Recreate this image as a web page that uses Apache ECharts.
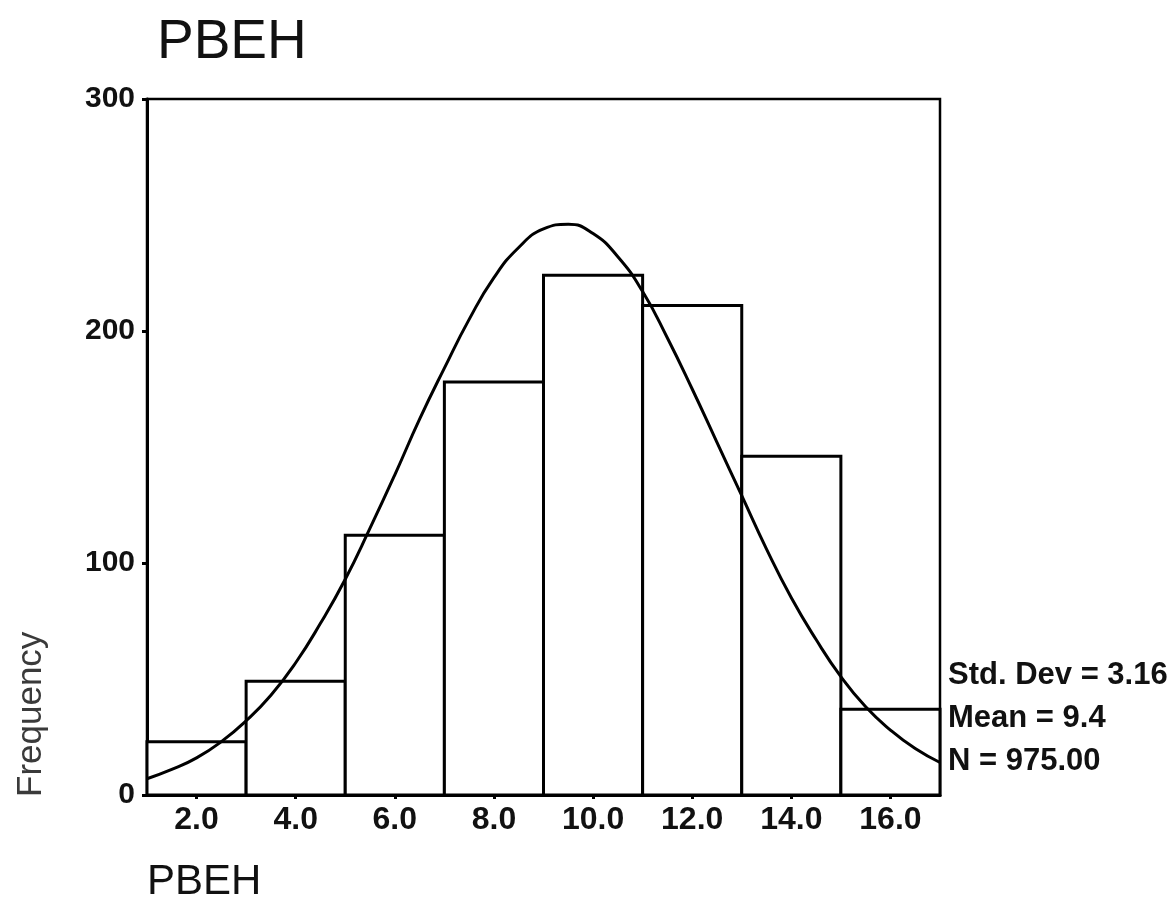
<!DOCTYPE html>
<html>
<head>
<meta charset="utf-8">
<script src="https://cdn.jsdelivr.net/npm/echarts@6/dist/echarts.min.js"></script>
<style>
html,body{margin:0;padding:0;background:#fff;}
#chart{width:1176px;height:923px;}
</style>
</head>
<body>
<div id="chart"></div>
<script>
// Histogram bins (PBEH)
var binStart = [1, 3, 5, 7, 9, 11, 13, 15];
var binEnd   = [3, 5, 7, 9, 11, 13, 15, 17];
var counts   = [23, 49, 112, 178, 224, 211, 146, 37];

// Normal curve
var curveX = [1, 1.5, 2, 2.5, 3, 3.5, 4, 4.5, 5, 5.5, 6, 6.5, 7, 7.5, 8, 8.5, 9, 9.5, 10, 10.5, 11, 11.5, 12, 12.5, 13, 13.5, 14, 14.5, 15, 15.5, 16, 16.5, 17];
var curveY = [7, 11, 16, 23, 32, 43, 57, 74, 93, 115, 138, 162, 184, 205, 223, 236, 244, 246, 242, 232, 217, 197, 175, 152, 129, 106, 85, 67, 51, 38, 28, 20, 14];

// Axis ticks
var xTicks = [2, 4, 6, 8, 10, 12, 14, 16];
var yTicks = [0, 100, 200, 300];

// Texts
var titleText = 'PBEH';
var xName = 'PBEH';
var yName = 'Frequency';
var stats = ['Std. Dev = 3.16', 'Mean = 9.4', 'N = 975.00'];

var barData = binStart.map(function (s, i) { return [s, binEnd[i], counts[i]]; });
var curveData = curveX.map(function (x, i) { return [x, curveY[i]]; });

var chart = echarts.init(document.getElementById('chart'));
var font = 'Liberation Sans, Arial, Helvetica, sans-serif';

chart.setOption({
  backgroundColor: '#fff',
  animation: false,
  title: {
    text: titleText,
    left: 152,
    top: 10,
    textStyle: { fontFamily: font, fontSize: 55, fontWeight: 'normal', color: '#111' }
  },
  grid: {
    left: 147, right: 236, top: 99, bottom: 128,
    show: true, borderColor: '#000', borderWidth: 2.5, backgroundColor: 'transparent'
  },
  xAxis: {
    type: 'value', min: 1, max: 17,
    axisLine: { show: true, lineStyle: { color: '#000', width: 3 } },
    axisTick: { show: true, customValues: xTicks, length: 4, lineStyle: { color: '#000', width: 3 } },
    axisLabel: {
      customValues: xTicks, margin: 9,
      formatter: function (v) { return v.toFixed(1); },
      fontFamily: font, fontSize: 32, fontWeight: 'bold', color: '#111'
    },
    splitLine: { show: false }
  },
  yAxis: {
    type: 'value', min: 0, max: 300, interval: 100,
    axisLine: { show: true, lineStyle: { color: '#000', width: 3 } },
    axisTick: { show: true, length: 5, lineStyle: { color: '#000', width: 3 } },
    axisLabel: {
      margin: 12,
      fontFamily: font, fontSize: 30, fontWeight: 'bold', color: '#111'
    },
    splitLine: { show: false }
  },
  series: [
    {
      type: 'custom',
      data: barData,
      encode: { x: [0, 1], y: 2 },
      renderItem: function (params, api) {
        var p0 = api.coord([api.value(0), api.value(2)]);
        var p1 = api.coord([api.value(1), 0]);
        return {
          type: 'rect',
          shape: { x: p0[0], y: p0[1], width: p1[0] - p0[0], height: p1[1] - p0[1] },
          style: { fill: '#fff', stroke: '#000', lineWidth: 3 }
        };
      },
      z: 2
    },
    {
      type: 'line',
      data: curveData,
      smooth: true,
      showSymbol: false,
      symbol: 'none',
      lineStyle: { color: '#000', width: 3 },
      z: 3
    }
  ],
  graphic: [
    {
      type: 'text', x: 31, y: 797, rotation: Math.PI / 2,
      style: { text: yName, font: 'normal 35px ' + font, fill: '#3a3a3a', textAlign: 'left', textVerticalAlign: 'middle' }
    },
    {
      type: 'text', x: 147, y: 882,
      style: { text: xName, font: 'normal 42px ' + font, fill: '#111', textVerticalAlign: 'middle' }
    },
    {
      type: 'text', x: 948, y: 675,
      style: { text: stats[0], font: 'bold 31px ' + font, fill: '#111', textVerticalAlign: 'middle' }
    },
    {
      type: 'text', x: 948, y: 718,
      style: { text: stats[1], font: 'bold 31px ' + font, fill: '#111', textVerticalAlign: 'middle' }
    },
    {
      type: 'text', x: 948, y: 761,
      style: { text: stats[2], font: 'bold 31px ' + font, fill: '#111', textVerticalAlign: 'middle' }
    }
  ]
});
</script>
</body>
</html>
